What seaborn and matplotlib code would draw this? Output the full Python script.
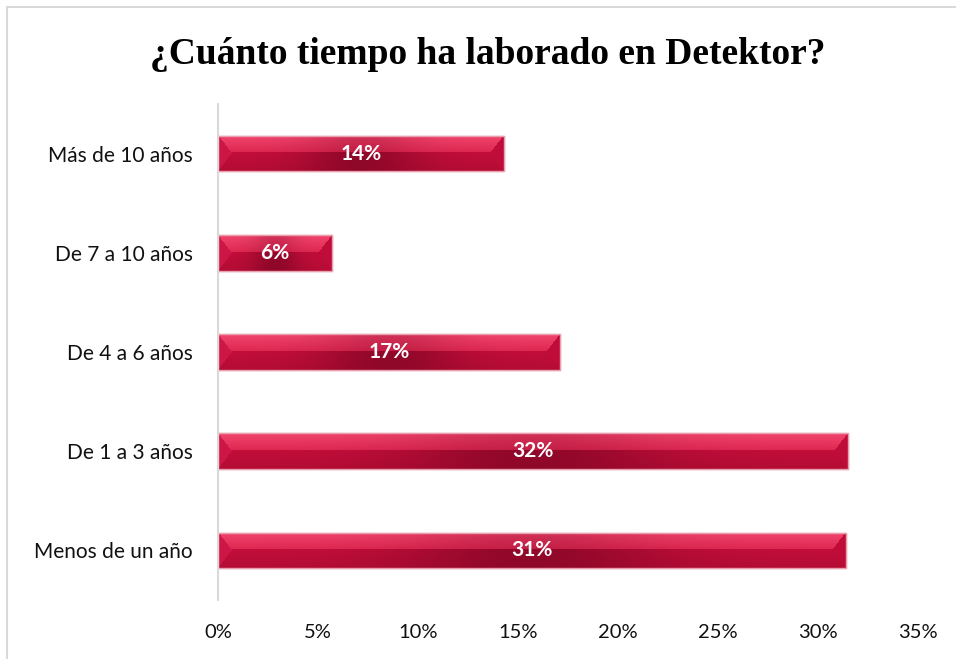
import numpy as np
import pandas as pd
import matplotlib
matplotlib.use("Agg")
import matplotlib.pyplot as plt
import seaborn as sns
from matplotlib.patches import Rectangle
from matplotlib.colors import to_rgb

categories = ["Más de 10 años", "De 7 a 10 años", "De 4 a 6 años", "De 1 a 3 años", "Menos de un año"]
values = [14.3, 5.7, 17.1, 31.5, 31.4]
labels = ["14%", "6%", "17%", "32%", "31%"]
xticks = [0, 5, 10, 15, 20, 25, 30, 35]
title = "¿Cuánto tiempo ha laborado en Detektor?"

df = pd.DataFrame({"cat": categories, "val": values})

sns.set_theme(style="white")
plt.rcParams["font.family"] = ["Lato", "DejaVu Sans"]

fig = plt.figure(figsize=(9.56, 6.59), dpi=100)
ax = fig.add_axes([218/956, 1-600/659, 700/956, 496/659])

sns.barplot(data=df, x="val", y="cat", orient="h", color="#C8143C", width=0.36,
            ax=ax, saturation=1, edgecolor="#E9A0AE", linewidth=1.0)


def bevel_texture(nw, nh, bw=14):
    """Crimson bevel texture (nh rows x nw cols)."""
    ys = (np.arange(nh)[:, None] + 0.5) / nh
    xs = np.arange(nw)[None, :] + 0.5
    xc = xs / nw
    band = 0.47
    light_top = np.array(to_rgb("#F2466E"))
    light_bot = np.array(to_rgb("#DE2852"))
    main_top = np.array(to_rgb("#C20E3A"))
    main_bot = np.array(to_rgb("#B40C34"))
    dark = np.array(to_rgb("#850626"))
    t1 = np.clip(ys / band, 0, 1)[..., None]
    t2 = np.clip((ys - band) / (1 - band), 0, 1)[..., None]
    top = light_top * (1 - t1) + light_bot * t1
    bot = main_top * (1 - t2) + main_bot * t2
    base = np.where((ys < band)[..., None], top, bot)
    base = np.broadcast_to(base, (nh, nw, 3)).copy()
    d = np.exp(-((xc - 0.5) / 0.2) ** 2)
    w = np.where(ys < band, 0.3, 0.8)
    k = np.broadcast_to(d * w, (nh, nw))[..., None]
    img = base * (1 - k) + dark * k
    # triangular end faces, apex at mid-height
    dist = np.abs(ys - 0.5) / 0.5
    left = xs < bw * (1 - dist)
    right = (nw - xs) < bw * (1 - dist)
    left = np.broadcast_to(left, (nh, nw))
    right = np.broadcast_to(right, (nh, nw))
    img[left] = np.array(to_rgb("#CE1646"))
    img[right] = np.array(to_rgb("#C00C38"))
    return img


for p, lab in zip(ax.patches, labels):
    x0, y0 = p.get_x(), p.get_y()
    w, h = p.get_width(), p.get_height()
    img = bevel_texture(max(int(round(w * 20)), 10), 36)
    im = ax.imshow(img, aspect="auto", extent=[x0, x0 + w, y0 + h, y0],
                   zorder=p.get_zorder() + 0.1, interpolation="bilinear")
    im.set_clip_path(p)
    ax.add_patch(Rectangle((x0, y0), w, h, fill=False, edgecolor="#E9A0AE",
                           linewidth=1.0, zorder=p.get_zorder() + 0.2))
    ax.text(x0 + w / 2, y0 + h / 2, lab, ha="center", va="center", color="white",
            fontsize=15, fontweight="bold", zorder=5)

ax.set_xlim(0, 35)
ax.set_ylim(4.5, -0.5)
ax.set_xticks(xticks)
ax.set_xticklabels([f"{t}%" for t in xticks], fontsize=14.5, color="#111111")
ax.tick_params(axis="x", pad=17, length=0)
ax.tick_params(axis="y", pad=18, length=0, labelsize=15, labelcolor="#111111")
ax.set_xlabel("")
ax.set_ylabel("")
for s in ["top", "right", "bottom"]:
    ax.spines[s].set_visible(False)
ax.spines["left"].set_color("#D9D9D9")
ax.spines["left"].set_linewidth(1.5)

fig.text(488/956, 1-54/659, title, ha="center", va="center", fontsize=27, fontweight="bold",
         family=["Liberation Serif", "DejaVu Serif"], color="black")

fig.patches.append(Rectangle((7/956, -0.1), 1.2, 1-7/659+0.1, transform=fig.transFigure,
                             fill=False, edgecolor="#D9D9D9", linewidth=1.5))

fig.savefig("out.png", dpi=100)
